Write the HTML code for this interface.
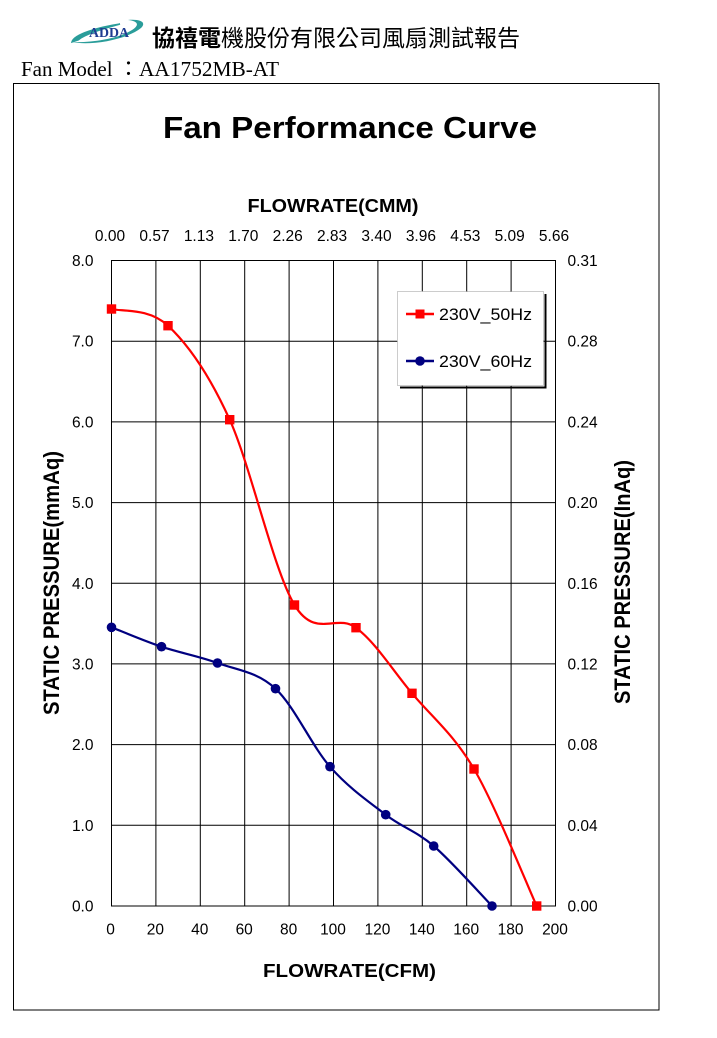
<!DOCTYPE html>
<html><head><meta charset="utf-8">
<style>
html,body{margin:0;padding:0;background:#fff;}
svg{display:block;}
</style></head>
<body>
<svg width="717" height="1038" viewBox="0 0 717 1038" xmlns="http://www.w3.org/2000/svg">
<rect x="0" y="0" width="717" height="1038" fill="#fff"/>

<!-- Logo -->
<g>
  <path d="M72,42 C74,34 100,27 120,24 C110,27 86,33 78,40 Z" fill="#2a9d9a" stroke="#2a9d9a" stroke-width="1.5"/>
  <path d="M72,42 C90,46 126,40 141,28 C147,22 140,19 128,20 C138,21 140,25 132,30 C118,39 90,43 72,42 Z" fill="#2a9d9a"/>
  <text x="89" y="37" font-family="Liberation Serif, serif" font-weight="bold" font-size="14" fill="#1f3c91" textLength="40" lengthAdjust="spacingAndGlyphs">ADDA</text>
</g>
<text x="152" y="46" font-family="'Noto Sans CJK TC','Noto Sans CJK SC',sans-serif" font-size="23" fill="#000"><tspan font-weight="bold">協禧電</tspan>機股份有限公司風扇測試報告</text>

<text x="21" y="76" font-family="'Liberation Serif',serif" font-size="21" fill="#000">Fan Model</text>
<text x="118" y="76" font-family="'Liberation Serif','Noto Sans CJK TC',serif" font-size="21" fill="#000">：</text>
<text x="139" y="76" font-family="'Liberation Serif',serif" font-size="21" fill="#000" textLength="140" lengthAdjust="spacingAndGlyphs">AA1752MB-AT</text>

<!-- Frame -->
<rect x="13.5" y="83.5" width="645.5" height="926.5" fill="none" stroke="#000" stroke-width="1"/>

<!-- Title -->
<text x="350" y="138" text-anchor="middle" font-family="'Liberation Sans',Arial,sans-serif" font-weight="bold" font-size="31" textLength="374" lengthAdjust="spacingAndGlyphs">Fan Performance Curve</text>
<text x="333" y="212" text-anchor="middle" font-family="'Liberation Sans',Arial,sans-serif" font-weight="bold" font-size="18" textLength="171" lengthAdjust="spacingAndGlyphs">FLOWRATE(CMM)</text>
<text x="349.5" y="977" text-anchor="middle" font-family="'Liberation Sans',Arial,sans-serif" font-weight="bold" font-size="18" textLength="173" lengthAdjust="spacingAndGlyphs">FLOWRATE(CFM)</text>

<!-- Y titles -->
<text transform="translate(59,583) rotate(-90)" text-anchor="middle" font-family="'Liberation Sans',Arial,sans-serif" font-weight="bold" font-size="22" textLength="264" lengthAdjust="spacingAndGlyphs">STATIC PRESSURE(mmAq)</text>
<text transform="translate(630,582) rotate(-90)" text-anchor="middle" font-family="'Liberation Sans',Arial,sans-serif" font-weight="bold" font-size="22" textLength="244" lengthAdjust="spacingAndGlyphs">STATIC PRESSURE(InAq)</text>

<!-- Grid -->
<g stroke="#000" stroke-width="1" fill="none">
  <rect x="111.5" y="260.5" width="444" height="645.5"/>
  <line x1="155.9" y1="260.5" x2="155.9" y2="906"/>
  <line x1="200.3" y1="260.5" x2="200.3" y2="906"/>
  <line x1="244.7" y1="260.5" x2="244.7" y2="906"/>
  <line x1="289.1" y1="260.5" x2="289.1" y2="906"/>
  <line x1="333.5" y1="260.5" x2="333.5" y2="906"/>
  <line x1="377.9" y1="260.5" x2="377.9" y2="906"/>
  <line x1="422.3" y1="260.5" x2="422.3" y2="906"/>
  <line x1="466.7" y1="260.5" x2="466.7" y2="906"/>
  <line x1="511.1" y1="260.5" x2="511.1" y2="906"/>
  <line x1="111.5" y1="341.2" x2="555.5" y2="341.2"/>
  <line x1="111.5" y1="421.9" x2="555.5" y2="421.9"/>
  <line x1="111.5" y1="502.6" x2="555.5" y2="502.6"/>
  <line x1="111.5" y1="583.3" x2="555.5" y2="583.3"/>
  <line x1="111.5" y1="663.9" x2="555.5" y2="663.9"/>
  <line x1="111.5" y1="744.6" x2="555.5" y2="744.6"/>
  <line x1="111.5" y1="825.3" x2="555.5" y2="825.3"/>
</g>

<!-- Tick labels -->
<g font-family="'Liberation Sans',Arial,sans-serif" font-size="15.5" fill="#000">
  <g text-anchor="middle">
    <text x="110" y="241">0.00</text>
    <text x="154.5" y="241">0.57</text>
    <text x="198.9" y="241">1.13</text>
    <text x="243.3" y="241">1.70</text>
    <text x="287.7" y="241">2.26</text>
    <text x="332.1" y="241">2.83</text>
    <text x="376.5" y="241">3.40</text>
    <text x="420.9" y="241">3.96</text>
    <text x="465.3" y="241">4.53</text>
    <text x="509.7" y="241">5.09</text>
    <text x="554" y="241">5.66</text>
  </g>
  <g text-anchor="middle">
    <text x="110.5" y="934.5">0</text>
    <text x="155.4" y="934.5">20</text>
    <text x="199.8" y="934.5">40</text>
    <text x="244.2" y="934.5">60</text>
    <text x="288.6" y="934.5">80</text>
    <text x="333" y="934.5">100</text>
    <text x="377.4" y="934.5">120</text>
    <text x="421.8" y="934.5">140</text>
    <text x="466.2" y="934.5">160</text>
    <text x="510.6" y="934.5">180</text>
    <text x="555" y="934.5">200</text>
  </g>
  <g text-anchor="end">
    <text x="93.5" y="266">8.0</text>
    <text x="93.5" y="346.7">7.0</text>
    <text x="93.5" y="427.4">6.0</text>
    <text x="93.5" y="508.1">5.0</text>
    <text x="93.5" y="588.8">4.0</text>
    <text x="93.5" y="669.4">3.0</text>
    <text x="93.5" y="750.1">2.0</text>
    <text x="93.5" y="830.8">1.0</text>
    <text x="93.5" y="911.5">0.0</text>
  </g>
  <g>
    <text x="567.5" y="266">0.31</text>
    <text x="567.5" y="346.7">0.28</text>
    <text x="567.5" y="427.4">0.24</text>
    <text x="567.5" y="508.1">0.20</text>
    <text x="567.5" y="588.8">0.16</text>
    <text x="567.5" y="669.4">0.12</text>
    <text x="567.5" y="750.1">0.08</text>
    <text x="567.5" y="830.8">0.04</text>
    <text x="567.5" y="911.5">0.00</text>
  </g>
</g>

<!-- Series 60Hz -->
<path d="M111.5,627.3 C119.8,630.5 143.8,640.8 161.5,646.7 C179.2,652.7 198.5,656 217.5,663 C236.5,670 256.75,671.4 275.5,688.7 C294.25,706 311.6,745.7 330,766.7 C348.4,787.7 368.4,801.5 385.7,814.7 C403,827.9 416,830.8 433.7,846 C451.4,861.2 482.3,896 492,906" fill="none" stroke="#000080" stroke-width="2.2"/>
<g fill="#000080">
  <circle cx="111.5" cy="627.3" r="4.8"/>
  <circle cx="161.5" cy="646.7" r="4.8"/>
  <circle cx="217.5" cy="663" r="4.8"/>
  <circle cx="275.5" cy="688.7" r="4.8"/>
  <circle cx="330" cy="766.7" r="4.8"/>
  <circle cx="385.7" cy="814.7" r="4.8"/>
  <circle cx="433.7" cy="846" r="4.8"/>
  <circle cx="492" cy="906" r="4.8"/>
</g>

<!-- Series 50Hz -->
<path d="M111.5,309 C120.9,311.8 148.3,307.3 168,325.7 C187.7,344.2 208.6,373.2 229.7,419.7 C250.8,466.3 273.5,570.3 294.5,605 C315.55,639.7 336.4,613 356,627.7 C375.6,642.4 392.3,669.8 412,693.3 C431.7,716.9 453.2,733.6 474,769 C494.8,804.5 526.3,883.2 536.7,906" fill="none" stroke="#ff0000" stroke-width="2.2"/>
<g fill="#ff0000">
  <rect x="106.8" y="304.3" width="9.4" height="9.4"/>
  <rect x="163.3" y="321" width="9.4" height="9.4"/>
  <rect x="225" y="415" width="9.4" height="9.4"/>
  <rect x="289.8" y="600.3" width="9.4" height="9.4"/>
  <rect x="351.3" y="623" width="9.4" height="9.4"/>
  <rect x="407.3" y="688.6" width="9.4" height="9.4"/>
  <rect x="469.3" y="764.3" width="9.4" height="9.4"/>
  <rect x="532" y="901.3" width="9.4" height="9.4"/>
</g>

<!-- Legend -->
<g>
  <line x1="545.5" y1="294" x2="545.5" y2="388" stroke="#000" stroke-width="2"/>
  <line x1="400" y1="387.5" x2="546.5" y2="387.5" stroke="#000" stroke-width="2"/>
  <rect x="397.5" y="291.5" width="146" height="94" fill="#fff" stroke="#9a9a9a" stroke-width="1" stroke-dasharray="1,1"/>
  <line x1="406" y1="314" x2="434" y2="314" stroke="#ff0000" stroke-width="2.5"/>
  <rect x="415.5" y="309.5" width="9" height="9" fill="#ff0000"/>
  <text x="439" y="320" font-family="'Liberation Sans',Arial,sans-serif" font-size="17" textLength="93" lengthAdjust="spacingAndGlyphs">230V_50Hz</text>
  <line x1="406" y1="361" x2="434" y2="361" stroke="#000080" stroke-width="2.5"/>
  <circle cx="420" cy="361" r="4.8" fill="#000080"/>
  <text x="439" y="367" font-family="'Liberation Sans',Arial,sans-serif" font-size="17" textLength="93" lengthAdjust="spacingAndGlyphs">230V_60Hz</text>
</g>
</svg>
</body></html>
